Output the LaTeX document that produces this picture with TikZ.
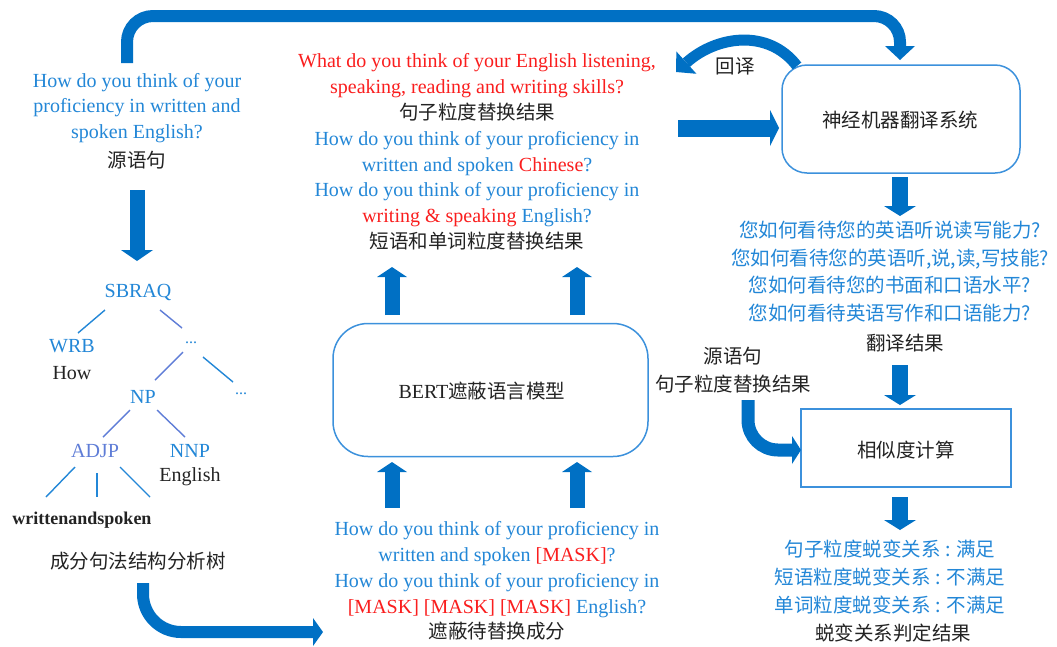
\documentclass[tikz,border=0pt]{standalone}
\usepackage{fontspec}
\setmainfont{Liberation Serif}
\newfontfamily\cjk{Noto Sans CJK SC}
\usetikzlibrary{arrows.meta}
\definecolor{ab}{RGB}{0,112,196}
\definecolor{tb}{RGB}{35,135,215}
\definecolor{bx}{RGB}{60,145,220}
\definecolor{rd}{RGB}{250,30,30}
\definecolor{tr}{RGB}{95,125,215}
\definecolor{tk}{RGB}{35,35,35}
\begin{document}
\begin{tikzpicture}[x=1pt,y=-1pt,
  en/.style={font=\fontsize{20}{25.8}\selectfont, inner sep=0pt, align=center},
  zh/.style={font=\cjk\fontsize{19.5}{27.7}\selectfont, inner sep=0pt, align=center, text=tk},
  tl/.style={draw=tb, line width=1.4pt},
  tlp/.style={draw=tr, line width=1.4pt},
  barrow/.style={draw=ab, line width=#1},
  rbox/.style={draw=bx, line width=1.5pt, fill=white, align=center, inner sep=0pt}
]
\useasboundingbox (0,0) rectangle (1057,646);
\fill[white] (0,0) rectangle (1057,646);

% ---------- left: source sentence and tree ----------
\node[en, text=tb] (src) at (137,108) {How do you think of your\\proficiency in written and\\spoken English?};
\node[zh] (srclab) at (137,160) {源语句};

\node[en, text=tb] (sbraq) at (138,292) {SBRAQ};
\node[en, text=tb] (wrb) at (72,346) {WRB};
\node[en, text=tk] (how) at (72,373) {How};
\node[en, text=tb, font=\fontsize{16}{18}\selectfont] (d1) at (191,343) {...};
\node[en, text=tb] (np) at (143,397) {NP};
\node[en, text=tb, font=\fontsize{16}{18}\selectfont] (d2) at (241,394) {...};
\node[en, text=tr] (adjp) at (95,451) {ADJP};
\node[en, text=tb] (nnp) at (190,451) {NNP};
\node[en, text=tk] (eng) at (190,477) {English};
\node[en, text=tk, font=\fontsize{18}{20}\bfseries] (ws) at (82,520) {writtenandspoken};
\node[zh] (treelab) at (138,561) {成分句法结构分析树};

\draw[tl] (105,310) -- (78,333);
\draw[tlp] (160,310) -- (182,328);
\draw[tlp] (183,352) -- (155,380);
\draw[tl] (203,357) -- (233,382);
\draw[tlp] (130,410) -- (103,437);
\draw[tlp] (157,410) -- (185,437);
\draw[tl] (75,467) -- (46,497);
\draw[tl] (97,473) -- (97,497);
\draw[tl] (120,467) -- (150,497);

% ---------- middle: replacement results ----------
\node[en, text=rd] (rep) at (477,152) {What do you think of your English listening,\\speaking, reading and writing skills?\\
{\cjk\fontsize{19.5}{25.8}\selectfont\color{tk}句子粒度替换结果}\\
\textcolor{tb}{How do you think of your proficiency in}\\
\textcolor{tb}{written and spoken} Chinese\textcolor{tb}{?}\\
\textcolor{tb}{How do you think of your proficiency in}\\
writing \& speaking \textcolor{tb}{English?}\\
{\cjk\fontsize{19.5}{25.8}\selectfont\color{tk}短语和单词粒度替换结果}};

\node[rbox, rounded corners=35pt, minimum width=315pt, minimum height=133pt] (bert) at (490.5,390) {};
\node[inner sep=0pt, text=tk, font=\fontsize{20}{24}\selectfont] (bertlab) at (482,391) {BERT{\cjk\fontsize{19.5}{24}\selectfont 遮蔽语言模型}};

\node[en, text=tb] (mask) at (497,581) {How do you think of your proficiency in\\
written and spoken \textcolor{rd}{[MASK]}?\\
How do you think of your proficiency in\\
\textcolor{rd}{[MASK] [MASK] [MASK]} English?\\
{\cjk\fontsize{19.5}{25.8}\selectfont\color{tk}遮蔽待替换成分}};

% ---------- right ----------
\node[rbox, rounded corners=25pt, minimum width=238pt, minimum height=108pt] (nmt) at (901,119) {};
\node[zh] (nmtlab) at (900,120) {神经机器翻译系统};
\node[zh] (bt) at (735,66) {回译};

\node[zh, text=tb] (trans) at (890,271.5) {您如何看待您的英语听说读写能力?\\您如何看待您的英语听,说,读,写技能?\\您如何看待您的书面和口语水平?\\您如何看待英语写作和口语能力?};
\node[zh] (translab) at (905,343) {翻译结果};

\node[zh] (srcsent) at (733,370) {源语句\\句子粒度替换结果};

\node[rbox, minimum width=210pt, minimum height=78pt] (sim) at (906,448) {};
\node[zh] (simlab) at (906,450) {相似度计算};

\node[zh, text=tb] (mr) at (890,577) {句子粒度蜕变关系 : 满足\\短语粒度蜕变关系 : 不满足\\单词粒度蜕变关系 : 不满足};
\node[zh] (mrlab) at (893,633) {蜕变关系判定结果};

% ---------- block arrows ----------
\draw[barrow=12pt, rounded corners=26pt, -{Triangle[width=30pt,length=14pt,line width=0pt]}]
  (127,63) -- (127,16) -- (900,16) -- (900,60);
\draw[barrow=15pt, -{Triangle[width=32pt,length=11pt,line width=0pt]}] (137,190) -- (137,261);
\draw[barrow=12pt, rounded corners=38pt, -{Triangle[width=28pt,length=10pt,line width=0pt]}]
  (143,583) |- (323,632);

\draw[barrow=15pt, -{Triangle[width=30pt,length=10pt,line width=0pt]}] (392,315) -- (392,267);
\draw[barrow=15pt, -{Triangle[width=30pt,length=10pt,line width=0pt]}] (577,315) -- (577,267);
\draw[barrow=15pt, -{Triangle[width=30pt,length=10pt,line width=0pt]}] (392,508) -- (392,462);
\draw[barrow=15pt, -{Triangle[width=30pt,length=10pt,line width=0pt]}] (577,508) -- (577,462);

\draw[barrow=17pt, -{Triangle[width=36pt,length=9pt,line width=0pt]}] (678,128) -- (779,128);
\draw[barrow=11pt, -{Triangle[width=30pt,length=14pt,line width=0pt]}]
  (797,66) .. controls (768,28) and (716,36) .. (676,72);

\draw[barrow=16pt, -{Triangle[width=32pt,length=10pt,line width=0pt]}] (900,177) -- (900,216);
\draw[barrow=16pt, -{Triangle[width=32pt,length=10pt,line width=0pt]}] (900,365) -- (900,405);
\draw[barrow=13pt, rounded corners=30pt, -{Triangle[width=28pt,length=9pt,line width=0pt]}]
  (748,400) |- (801,450);
\draw[barrow=16pt, -{Triangle[width=32pt,length=10pt,line width=0pt]}] (900,497) -- (900,530);
\end{tikzpicture}
\end{document}
